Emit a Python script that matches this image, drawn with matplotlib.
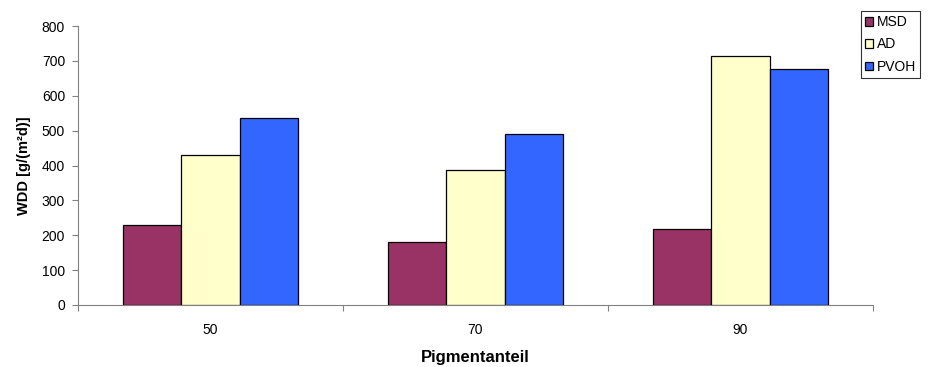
import matplotlib
matplotlib.use("Agg")
import matplotlib.pyplot as plt
import numpy as np

plt.rcParams['font.family'] = ['Liberation Sans', 'DejaVu Sans']

categories = ["50", "70", "90"]
series_names = ["MSD", "AD", "PVOH"]
msd = [230, 182, 217]
ad = [431, 388, 714]
pvoh = [536, 491, 678]
colors = ["#993366", "#FFFFCC", "#3366FF"]
y_ticks = [0, 100, 200, 300, 400, 500, 600, 700, 800]

fig = plt.figure(figsize=(9.29, 3.67), dpi=100)
ax = fig.add_axes([78 / 929, 1 - 305 / 367, (873 - 78) / 929, (305 - 26) / 367])

x = np.arange(len(categories))
width = 0.22
for i, (name, vals, col) in enumerate(zip(series_names, [msd, ad, pvoh], colors)):
    ax.bar(x + (i - 1) * width, vals, width, color=col, edgecolor="black",
           linewidth=0.9, label=name, zorder=3)

ax.set_xlim(-0.5, len(categories) - 0.5)
ax.set_ylim(0, 800)
ax.set_yticks(y_ticks)
ax.set_yticklabels([str(v) for v in y_ticks], fontsize=10)
ax.set_xticks(x)
ax.set_xticklabels(categories, fontsize=10)
ax.tick_params(axis="x", length=0, pad=13)
ax.set_xticks(np.arange(-0.5, len(categories), 1.0), minor=True)
ax.tick_params(axis="x", which="minor", length=4.3, color="#808080", width=0.8)
ax.tick_params(axis="y", length=4.3, color="#808080", width=0.8, pad=5)

for side in ["top", "right"]:
    ax.spines[side].set_visible(False)
ax.spines["left"].set_color("#808080")
ax.spines["bottom"].set_color("#808080")
ax.spines["left"].set_linewidth(0.8)
ax.spines["bottom"].set_linewidth(0.8)

ax.set_xlabel("Pigmentanteil", fontsize=12, fontweight="bold", labelpad=9)
ax.set_ylabel("WDD [g/(m²d)]", fontsize=10.5, fontweight="bold", labelpad=8)

leg = fig.legend(loc="upper left", bbox_to_anchor=(861 / 929, 1 - 11 / 367),
                 fontsize=10, frameon=True, fancybox=False, edgecolor="black",
                 handlelength=0.6, handleheight=0.6, handletextpad=0.25,
                 borderpad=0.3, labelspacing=0.6, borderaxespad=0)
leg.get_frame().set_linewidth(0.8)

fig.savefig("out.png", dpi=100)
